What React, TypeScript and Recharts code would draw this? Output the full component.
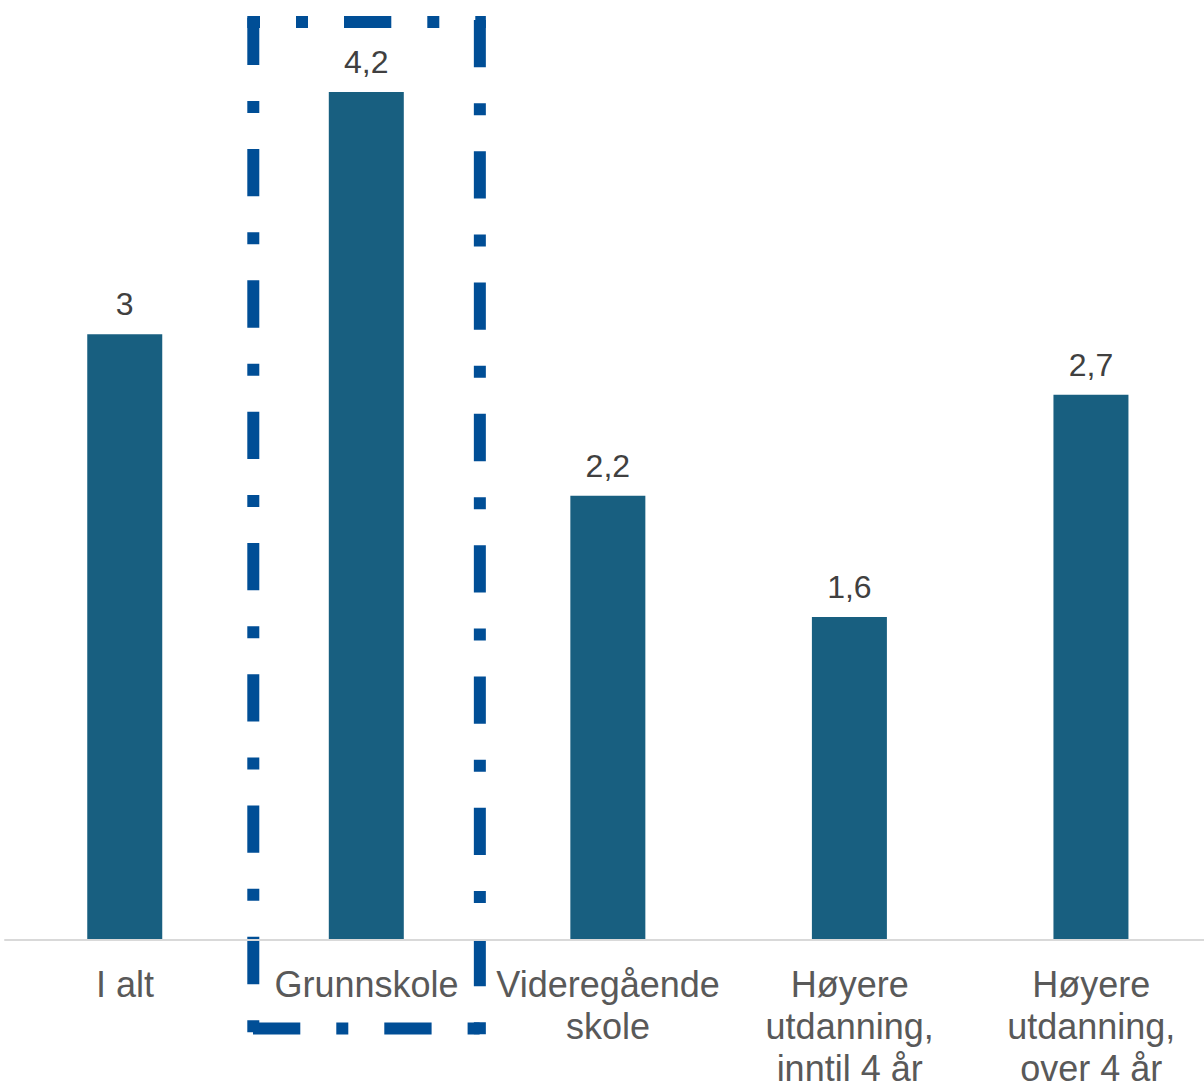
import React from 'react';
import { BarChart, Bar, XAxis, YAxis, LabelList, ReferenceArea } from 'recharts';

const categories = [
  'I alt',
  'Grunnskole',
  'Videregående\nskole',
  'Høyere\nutdanning,\ninntil 4 år',
  'Høyere\nutdanning,\nover 4 år',
];
const values = [3, 4.2, 2.2, 1.6, 2.7];
const highlighted = 'Grunnskole';

const data = categories.map((name, i) => ({ name, value: values[i] }));

const FONT = '"Liberation Sans", Arial, sans-serif';
const BAR_COLOR = '#185f80';
const BOX_COLOR = '#004e96';
const DASH = '47.3 36 12 36';

const formatValue = (v: number) => String(v).replace('.', ',');

function CategoryTick(props: any) {
  const { x, y, payload } = props;
  const lines = String(payload.value).split('\n');
  return (
    <text
      x={x}
      y={y + 57}
      textAnchor="middle"
      fill="#595959"
      fontSize={36}
      fontFamily={FONT}
    >
      {lines.map((line, i) => (
        <tspan key={i} x={x} dy={i === 0 ? 0 : 42}>
          {line}
        </tspan>
      ))}
    </text>
  );
}

// dash-dot frame, each side drawn on its own so the pattern lines up like the original
function DashedBox(props: any) {
  const { x, y, width, height } = props;
  const inset = 7.5;
  const half = 6;
  const l = x + inset;
  const r = x + width - inset;
  const t = y;
  const b = y + height;
  const common = {
    stroke: BOX_COLOR,
    strokeWidth: 12,
    strokeDasharray: DASH,
    fill: 'none',
  };
  return (
    <g>
      <line x1={l - half} y1={t} x2={r + half} y2={t} {...common} strokeDashoffset={34.6} />
      <line x1={r} y1={t - half} x2={r} y2={b + half} {...common} strokeDashoffset={127.3} />
      <line x1={l - half} y1={b} x2={r + half} y2={b} {...common} strokeDashoffset={125.6} />
      <line x1={l} y1={t - half} x2={l} y2={b + half} {...common} strokeDashoffset={129.5} />
    </g>
  );
}

export default function App() {
  return (
    <div
      style={{
        position: 'absolute',
        left: 0,
        top: 0,
        width: 1204,
        height: 1086,
        overflow: 'hidden',
        background: '#ffffff',
      }}
    >
      <BarChart
        width={1212}
        height={1086}
        data={data}
        margin={{ top: 92, right: 0, bottom: 0, left: 4.25 }}
      >
        <XAxis
          dataKey="name"
          interval={0}
          height={146}
          tickLine={false}
          tickSize={0}
          tickMargin={0}
          axisLine={{ stroke: '#d9d9d9', strokeWidth: 2 }}
          tick={<CategoryTick />}
        />
        <YAxis hide domain={[0, 4.2]} />
        <ReferenceArea
          x1={highlighted}
          x2={highlighted}
          y1={-0.438}
          y2={4.547}
          ifOverflow="visible"
          shape={<DashedBox />}
        />
        <Bar dataKey="value" fill={BAR_COLOR} barSize={75} isAnimationActive={false}>
          <LabelList
            dataKey="value"
            position="top"
            offset={19}
            formatter={(v: any) => formatValue(v)}
            fill="#404040"
            fontSize={32}
            fontFamily={FONT}
          />
        </Bar>
      </BarChart>
    </div>
  );
}
